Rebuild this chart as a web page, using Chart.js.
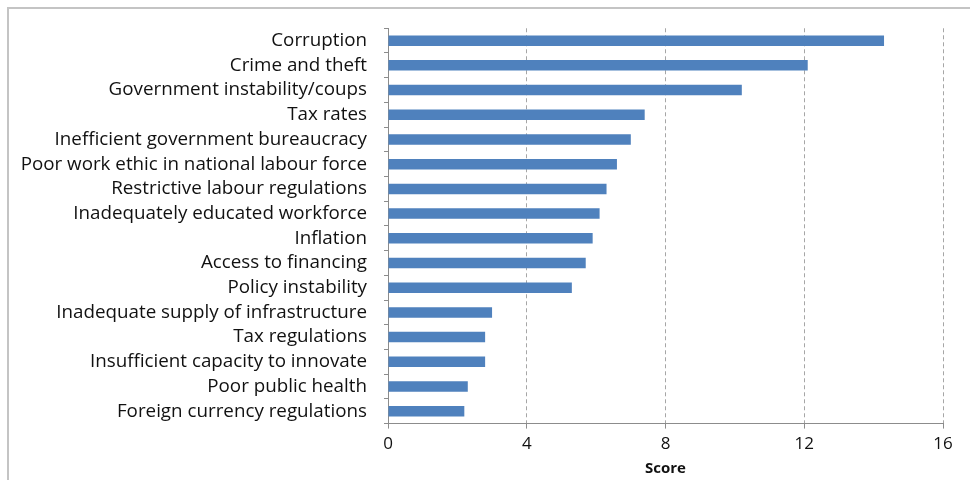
<!DOCTYPE html>
<html>
<head>
<meta charset="utf-8">
<script src="https://cdn.jsdelivr.net/npm/chart.js@4/dist/chart.umd.min.js"></script>
<style>
  html, body { margin: 0; padding: 0; background: #ffffff; }
  #wrap { position: relative; width: 970px; height: 480px; }
  #frame { position: absolute; left: 7px; top: 7px; right: 0; bottom: 0;
           border-left: 2px solid #c4c4c4; border-top: 2px solid #c4c4c4; pointer-events: none; }
  canvas { position: absolute; left: 0; top: 0; }
</style>
</head>
<body>
<div id="wrap">
  <canvas id="c" width="970" height="480"></canvas>
  <div id="frame"></div>
</div>
<script>
const categories = [
  "Corruption",
  "Crime and theft",
  "Government instability/coups",
  "Tax rates",
  "Inefficient government bureaucracy",
  "Poor work ethic in national labour force",
  "Restrictive labour regulations",
  "Inadequately educated workforce",
  "Inflation",
  "Access to financing",
  "Policy instability",
  "Inadequate supply of infrastructure",
  "Tax regulations",
  "Insufficient capacity to innovate",
  "Poor public health",
  "Foreign currency regulations"
];
const scores = [14.3, 12.1, 10.2, 7.4, 7.0, 6.6, 6.3, 6.1, 5.9, 5.7, 5.3, 3.0, 2.8, 2.8, 2.3, 2.2];
const xTicks = [0, 4, 8, 12, 16];
const xTitle = "Score";

const FONT = "Open Sans";

new Chart(document.getElementById("c"), {
  type: "bar",
  data: {
    labels: categories,
    datasets: [{
      data: scores,
      backgroundColor: "#4f81bd",
      borderWidth: 0,
      barPercentage: 0.85,
      categoryPercentage: 0.5
    }]
  },
  options: {
    indexAxis: "y",
    responsive: false,
    animation: false,
    devicePixelRatio: 1,
    layout: { padding: { top: 28, right: 27, bottom: 2, left: 0 } },
    plugins: { legend: { display: false }, tooltip: { enabled: false } },
    scales: {
      x: {
        min: 0, max: 16,
        afterBuildTicks: (s) => { s.ticks = xTicks.map(v => ({ value: v })); },
        ticks: { color: "#111111", font: { family: FONT, size: 17 }, padding: 5 },
        grid: { color: (ctx) => ctx.tick && ctx.tick.value === 0 ? "rgba(0,0,0,0)" : "#a6a6a6",
                lineWidth: 1, drawTicks: true, tickLength: 5, tickColor: "#8c8c8c" },
        border: { display: true, color: "#8c8c8c", width: 1, dash: [4, 3] },
        title: { display: true, text: xTitle, color: "#111111",
                 font: { family: FONT, size: 15, weight: "bold" }, padding: { top: 1, bottom: 0 } }
      },
      y: {
        afterFit: (s) => { s.width = 388; },
        ticks: { color: "#111111", font: { family: FONT, size: 18.8 }, padding: 17, autoSkip: false },
        grid: { drawOnChartArea: false, drawTicks: true, tickLength: 4, tickColor: "#8c8c8c" },
        border: { display: true, color: "#8c8c8c", width: 1 }
      }
    }
  }
});
</script>
</body>
</html>
